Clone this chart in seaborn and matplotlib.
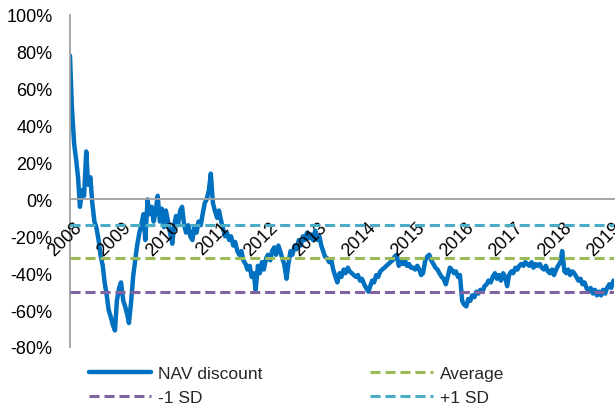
import numpy as np
import pandas as pd
import matplotlib
matplotlib.use("Agg")
import matplotlib.pyplot as plt
import matplotlib.transforms as mtransforms
import seaborn as sns

# ---- data (semi-monthly readings of NAV discount, %) ----
start_date = "2008-01-01"
nav_2008 = [78, 50, 30, 22, 12, -4, 5, 2, 26, 8, 12, -2, -12, -15, -22, -30, -36, -45, -52, -60, -64, -68, -71, -55]
nav_2009 = [-48, -45, -55, -58, -62, -67, -55, -42, -33, -25, -18, -14, -8, -22, 0, -8, -4, -12, -6, 2, -12, -5, -15, -6]
nav_2010 = [-12, -18, -24, -14, -9, -14, -6, -4, -14, -18, -14, -20, -22, -15, -18, -12, -14, -8, -2, 0, 5, 14, -2, -6]
nav_2011 = [-10, -6, -12, -16, -20, -18, -22, -20, -25, -23, -28, -30, -28, -33, -35, -38, -36, -42, -40, -49, -36, -40, -34, -38]
nav_2012 = [-32, -30, -33, -28, -26, -30, -25, -28, -32, -35, -43, -35, -28, -30, -25, -27, -22, -25, -20, -22, -18, -21, -19, -22]
nav_2013 = [-17, -22, -20, -25, -28, -31, -32, -34, -33, -38, -42, -45, -40, -42, -38, -40, -37, -39, -40, -41, -42, -41, -44, -43]
nav_2014 = [-46, -48, -50, -47, -44, -45, -41, -42, -39, -38, -37, -36, -35, -34, -33, -31, -30, -36, -34, -35, -33, -36, -35, -37]
nav_2015 = [-37, -38, -36, -38, -41, -40, -33, -31, -30, -33, -35, -37, -38, -40, -42, -43, -46, -42, -37, -38, -40, -39, -42, -41]
nav_2016 = [-55, -57, -58, -54, -55, -52, -53, -50, -51, -49, -50, -47, -46, -44, -45, -42, -40, -43, -41, -44, -40, -42, -47, -41]
nav_2017 = [-39, -40, -37, -38, -36, -35, -36, -34, -35, -36, -34, -37, -35, -36, -35, -37, -38, -36, -39, -40, -38, -41, -38, -36]
nav_2018 = [-34, -28, -39, -40, -38, -41, -39, -40, -42, -44, -43, -46, -45, -48, -50, -48, -51, -49, -52, -50, -52, -49, -51, -48]
nav_2019 = [-46, -48, -44]

average = -32
minus_1sd = -50
plus_1sd = -14

years = list(range(2008, 2020))
year_labels = [str(y) for y in years]
ytick_vals = [-80, -60, -40, -20, 0, 20, 40, 60, 80, 100]

nav = (nav_2008 + nav_2009 + nav_2010 + nav_2011 + nav_2012 + nav_2013 +
       nav_2014 + nav_2015 + nav_2016 + nav_2017 + nav_2018 + nav_2019)
dates = pd.date_range(start_date, periods=len(nav), freq="SMS")
df = pd.DataFrame({"date": dates, "NAV discount": nav})

# ---- style ----
sns.set_style("white")
plt.rcParams["font.family"] = ["Liberation Sans", "DejaVu Sans"]

fig = plt.figure(figsize=(6.15, 4.10), dpi=100)
ax = fig.add_axes([70 / 615, 62 / 410, 544 / 615, 332 / 410])

blue = "#0070C0"
green = "#9BBB59"
teal = "#4BACC6"
purple = "#8064A2"
grey = "#A0A0A0"

sns.lineplot(data=df, x="date", y="NAV discount", ax=ax, color=blue,
             linewidth=3.2, label="NAV discount")
dash = (3.3, 1.6)
ax.axhline(minus_1sd, color=purple, linewidth=2.2, dashes=dash, label="-1 SD", zorder=3)
ax.axhline(average, color=green, linewidth=2.2, dashes=dash, label="Average", zorder=3)
ax.axhline(plus_1sd, color=teal, linewidth=2.2, dashes=dash, label="+1 SD", zorder=3)

ax.set_ylim(-80, 100)
ax.set_xlim(pd.Timestamp("2008-01-01"), pd.Timestamp("2019-02-05"))
ax.set_yticks(ytick_vals)
ax.set_yticklabels([f"{v}%" for v in ytick_vals])
ax.set_xticks([pd.Timestamp(f"{y}-01-01") for y in years])
ax.set_xticklabels(year_labels)
ax.set_xlabel("")
ax.set_ylabel("")
ax.set_axisbelow(False)

for s in ["top", "right"]:
    ax.spines[s].set_visible(False)
ax.spines["bottom"].set_position(("data", 0))
for s in ["left", "bottom"]:
    ax.spines[s].set_color(grey)
    ax.spines[s].set_linewidth(1.3)
ax.tick_params(axis="both", which="major", direction="out", length=4.5,
               width=1.2, color=grey, labelsize=13, labelcolor="black")
ax.tick_params(axis="y", pad=8)
ax.tick_params(axis="x", pad=4, labelrotation=45)
offset = mtransforms.ScaledTranslation(0.03, -0.075, fig.dpi_scale_trans)
for lab in ax.get_xticklabels():
    lab.set_ha("right")
    lab.set_va("top")
    lab.set_rotation_mode("anchor")
    lab.set_transform(lab.get_transform() + offset)

handles, labels = ax.get_legend_handles_labels()
order = ["NAV discount", "-1 SD", "Average", "+1 SD"]
hmap = dict(zip(labels, handles))
ax.legend([hmap[k] for k in order], order, ncol=2, frameon=False,
          loc="upper left", bbox_to_anchor=(82 / 615, 1 - 360 / 410),
          bbox_transform=fig.transFigure, fontsize=12.5,
          handlelength=3.6, handletextpad=0.4, columnspacing=6.2,
          labelspacing=0.5, borderaxespad=0)

fig.savefig("out.png", dpi=100)
